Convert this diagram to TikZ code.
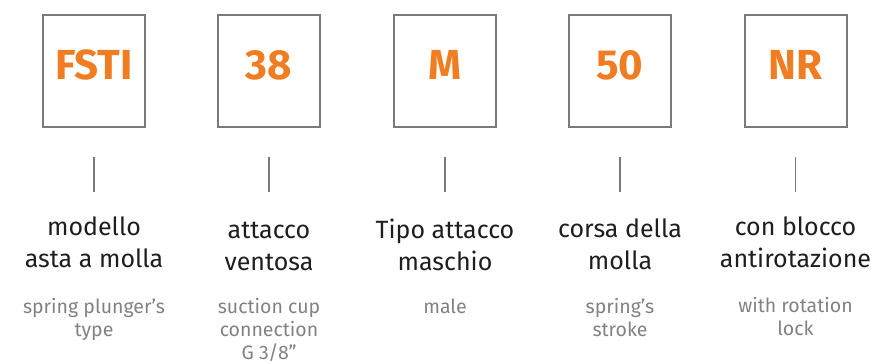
\documentclass[tikz,border=0pt]{standalone}
\usepackage{fontspec}
\setmainfont{Fira Sans}
\usepackage{tikz}
\usetikzlibrary{positioning}
\definecolor{codeOrange}{RGB}{240, 125, 34}
\definecolor{frameGray}{RGB}{122, 122, 122}
\definecolor{noteGray}{RGB}{130, 130, 130}
\definecolor{textBlack}{RGB}{30, 30, 30}

\begin{document}
\begin{tikzpicture}[x=1pt, y=-1pt,
  codebox/.style={draw=frameGray, line width=2pt, minimum width=102pt,
    minimum height=112pt, inner sep=0pt},
  codetext/.style={font=\fontsize{42}{42}\selectfont\bfseries,
    text=codeOrange, anchor=base, inner sep=0pt},
  tickline/.style={draw=frameGray, line width=1.1pt},
  itlabel/.style={font=\fontsize{25}{32}\selectfont, text=textBlack,
    align=center, anchor=base, inner sep=0pt},
  enlabel/.style={font=\fontsize{19.5}{23}\selectfont, text=noteGray,
    align=center, anchor=base, inner sep=0pt}]
  \useasboundingbox (0,0) rectangle (877,363);
  % label nodes sit on the baseline of their last line

  % --- Model ---
  \node[codebox] (box1) at (94,71) {};
  \node[codetext] (code1) at (94,80) {FSTI};
  \coordinate (top1) at (94,157);
  \coordinate (bot1) at (94,192);
  \draw[tickline] (top1) -- (bot1);
  \node[itlabel] (it1) at (94,267) {modello\\asta a molla};
  \node[enlabel] (en1) at (94,336) {spring plunger’s\\type};

  % --- Suction cup connection ---
  \node[codebox] (box2) at (269,71) {};
  \node[codetext] (code2) at (269,80) {38};
  \coordinate (top2) at (269,157);
  \coordinate (bot2) at (269,192);
  \draw[tickline] (top2) -- (bot2);
  \node[itlabel] (it2) at (269,270) {attacco\\ventosa};
  \node[enlabel] (en2) at (269,359) {suction cup\\connection\\G 3/8”};

  % --- Male thread ---
  \node[codebox] (box3) at (445,71) {};
  \node[codetext] (code3) at (445,80) {M};
  \coordinate (top3) at (445,157);
  \coordinate (bot3) at (445,192);
  \draw[tickline] (top3) -- (bot3);
  \node[itlabel] (it3) at (445,270) {Tipo attacco\\maschio};
  \node[enlabel] (en3) at (445,313) {male};

  % --- Stroke ---
  \node[codebox] (box4) at (620,71) {};
  \node[codetext] (code4) at (620,80) {50};
  \coordinate (top4) at (620,157);
  \coordinate (bot4) at (620,192);
  \draw[tickline] (top4) -- (bot4);
  \node[itlabel] (it4) at (620,269) {corsa della\\molla};
  \node[enlabel] (en4) at (620,336) {spring’s\\stroke};

  % --- Anti-rotation ---
  \node[codebox] (box5) at (795.5,71) {};
  \node[codetext] (code5) at (795.5,80) {NR};
  \coordinate (top5) at (795.5,157);
  \coordinate (bot5) at (795.5,192);
  \draw[tickline] (top5) -- (bot5);
  \node[itlabel] (it5) at (795.5,267) {con blocco\\antirotazione};
  \node[enlabel] (en5) at (795.5,335) {with rotation\\lock};
\end{tikzpicture}
\end{document}
